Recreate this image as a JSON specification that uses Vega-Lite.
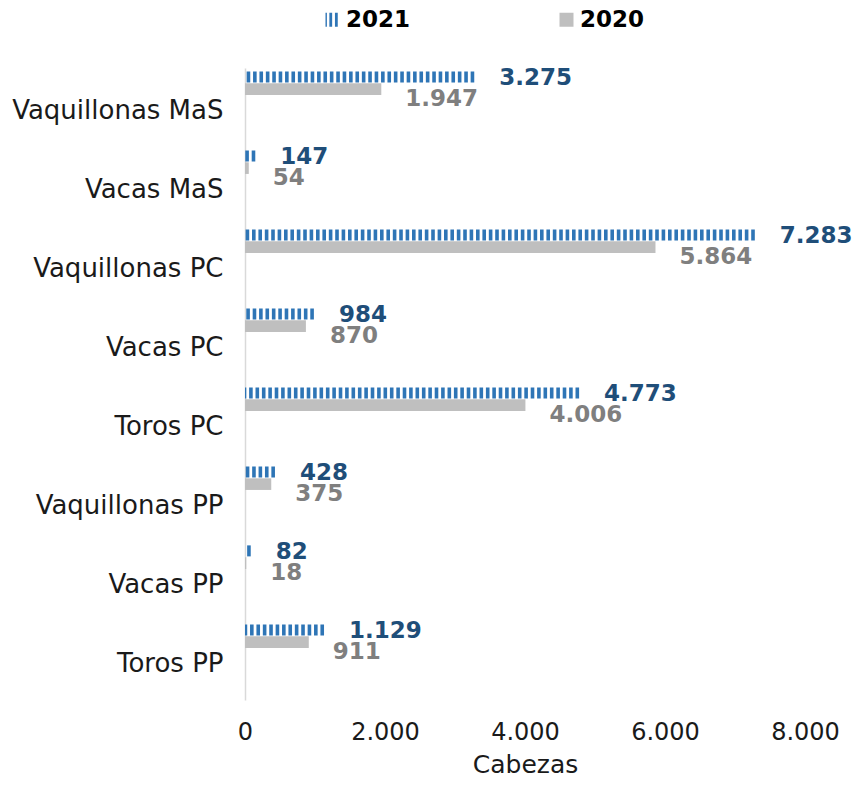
{
  "$schema": "https://vega.github.io/schema/vega-lite/v6.json",
  "autosize": "none",
  "width": 560,
  "height": 632,
  "padding": {"left": 245, "top": 68, "right": 47, "bottom": 85},
  "background": "white",
  "config": {
    "view": {"stroke": null},
    "font": "DejaVu Sans",
    "locale": {"number": {"decimal": ",", "thousands": ".", "grouping": [3], "currency": ["", ""]}}
  },
  "data": {
    "values": [
      {"categoria": "Vaquillonas MaS", "anio": "2021", "cabezas": 3275},
      {"categoria": "Vaquillonas MaS", "anio": "2020", "cabezas": 1947},
      {"categoria": "Vacas MaS", "anio": "2021", "cabezas": 147},
      {"categoria": "Vacas MaS", "anio": "2020", "cabezas": 54},
      {"categoria": "Vaquillonas PC", "anio": "2021", "cabezas": 7283},
      {"categoria": "Vaquillonas PC", "anio": "2020", "cabezas": 5864},
      {"categoria": "Vacas PC", "anio": "2021", "cabezas": 984},
      {"categoria": "Vacas PC", "anio": "2020", "cabezas": 870},
      {"categoria": "Toros PC", "anio": "2021", "cabezas": 4773},
      {"categoria": "Toros PC", "anio": "2020", "cabezas": 4006},
      {"categoria": "Vaquillonas PP", "anio": "2021", "cabezas": 428},
      {"categoria": "Vaquillonas PP", "anio": "2020", "cabezas": 375},
      {"categoria": "Vacas PP", "anio": "2021", "cabezas": 82},
      {"categoria": "Vacas PP", "anio": "2020", "cabezas": 18},
      {"categoria": "Toros PP", "anio": "2021", "cabezas": 1129},
      {"categoria": "Toros PP", "anio": "2020", "cabezas": 911}
    ]
  },
  "encoding": {
    "y": {
      "field": "categoria",
      "type": "nominal",
      "sort": null,
      "scale": {"paddingInner": 0, "paddingOuter": 0},
      "axis": {
        "title": null,
        "ticks": false,
        "labelFontSize": 26,
        "labelColor": "#1a1a1a",
        "labelPadding": 22,
        "labelLimit": 300,
        "labelOffset": 3,
        "domainColor": "#D9D9D9",
        "domainWidth": 1.5,
        "grid": false
      }
    },
    "yOffset": {
      "field": "anio",
      "type": "nominal",
      "scale": {"domain": ["2021", "2020", "a", "b", "c", "d"], "paddingOuter": 0.25, "paddingInner": 0.05}
    }
  },
  "layer": [
    {
      "transform": [{"filter": "datum.anio === '2021'"}],
      "mark": {"type": "rule", "strokeWidth": 11, "strokeDash": [3.6, 2.8]},
      "encoding": {
        "x": {
          "field": "cabezas",
          "type": "quantitative",
          "scale": {"domain": [0, 8000]},
          "axis": {
            "values": [0, 2000, 4000, 6000, 8000],
            "format": ",d",
            "title": "Cabezas",
            "titleFontSize": 25,
            "titleFontWeight": "normal",
            "titleColor": "#1a1a1a",
            "titlePadding": 8,
            "labelFontSize": 24,
            "labelColor": "#1a1a1a",
            "labelPadding": 20,
            "labelFlush": false,
            "ticks": false,
            "domain": false,
            "grid": false
          }
        },
        "x2": {"datum": 0},
        "color": {
          "field": "anio",
          "type": "nominal",
          "scale": {"domain": ["2021", "2020"], "range": ["#2E75B6", "#BFBFBF"]},
          "legend": {
            "title": null,
            "orient": "none",
            "direction": "horizontal",
            "legendX": 76,
            "legendY": -60,
            "labelFontSize": 23,
            "labelFontWeight": "bold",
            "labelColor": "#000000",
            "symbolSize": 196,
            "symbolStrokeWidth": 0,
            "columnPadding": 144,
            "labelOffset": 2,
            "encode": {
              "symbols": {
                "update": {
                  "shape": [
                    {"test": "datum.value === '2021'", "value": "M-1,-1H-0.8V1H-1Z M-0.45,-1H-0.05V1H-0.45Z M0.35,-1H0.75V1H0.35Z"},
                    {"value": "square"}
                  ],
                  "fillOpacity": {"value": 1},
                  "strokeWidth": {"value": 0}
                }
              }
            }
          }
        }
      }
    },
    {
      "transform": [{"filter": "datum.anio === '2020'"}],
      "mark": {"type": "bar"},
      "encoding": {
        "x": {"field": "cabezas", "type": "quantitative"},
        "color": {"field": "anio", "type": "nominal"}
      }
    },
    {
      "transform": [{"filter": "datum.anio === '2021'"}],
      "mark": {"type": "text", "align": "left", "baseline": "middle", "dx": 25, "dy": 1, "fontSize": 23, "fontWeight": "bold", "color": "#1F4E79"},
      "encoding": {
        "x": {"field": "cabezas", "type": "quantitative"},
        "text": {"field": "cabezas", "type": "quantitative", "format": ",d"}
      }
    },
    {
      "transform": [{"filter": "datum.anio === '2020'"}],
      "mark": {"type": "text", "align": "left", "baseline": "middle", "dx": 24, "dy": 10, "fontSize": 23, "fontWeight": "bold", "color": "#7F7F7F"},
      "encoding": {
        "x": {"field": "cabezas", "type": "quantitative"},
        "text": {"field": "cabezas", "type": "quantitative", "format": ",d"}
      }
    }
  ]
}
